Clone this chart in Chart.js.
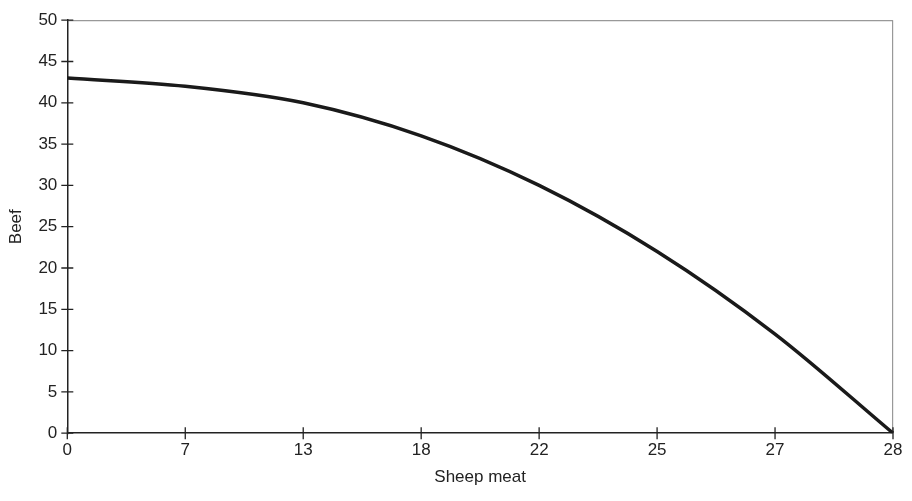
<!DOCTYPE html>
<html>
<head>
<meta charset="utf-8">
<script src="https://cdn.jsdelivr.net/npm/chart.js@4/dist/chart.umd.min.js"></script>
<style>
  html, body { margin: 0; padding: 0; background: #fff; }
  #wrap { width: 912px; height: 501px; }
</style>
</head>
<body>
<div id="wrap"><canvas id="chart"></canvas></div>
<script>
const sheepMeat = ["0", "7", "13", "18", "22", "25", "27", "28"];
const beef = [43, 42, 40, 36, 30, 22, 12, 0];
const beefTicks = [0, 5, 10, 15, 20, 25, 30, 35, 40, 45, 50];

// little ticks that cross the axis lines, both sides
const crossTicks = {
  id: "crossTicks",
  afterDraw(chart) {
    const { ctx, chartArea, scales } = chart;
    ctx.save();
    ctx.strokeStyle = "#222";
    ctx.lineWidth = 1.3;
    ctx.beginPath();
    beefTicks.forEach(v => {
      const y = scales.y.getPixelForValue(v);
      ctx.moveTo(chartArea.left - 6, y);
      ctx.lineTo(chartArea.left + 6, y);
    });
    sheepMeat.forEach((_, i) => {
      const x = scales.x.getPixelForValue(i);
      ctx.moveTo(x, chartArea.bottom - 6);
      ctx.lineTo(x, chartArea.bottom + 6);
    });
    ctx.stroke();
    ctx.restore();
  }
};

const font = { family: "Liberation Sans, Arial", size: 17 };

new Chart(document.getElementById("chart"), {
  type: "line",
  data: {
    labels: sheepMeat,
    datasets: [{
      data: beef,
      borderColor: "#1a1a1a",
      borderWidth: 3.5,
      pointRadius: 0,
      cubicInterpolationMode: "monotone",
      fill: false
    }]
  },
  options: {
    responsive: true,
    maintainAspectRatio: false,
    animation: false,
    layout: { padding: { top: 2, right: 19, left: 2, bottom: 9 } },
    plugins: { legend: { display: false }, tooltip: { enabled: false } },
    scales: {
      x: {
        offset: false,
        grid: {
          drawTicks: false,
          color: ctx => ctx.index === sheepMeat.length - 1 ? "#999" : "transparent",
          lineWidth: 1.2
        },
        border: { color: "#222", width: 1.5 },
        ticks: { color: "#222", padding: 7, maxRotation: 0, font },
        title: {
          display: true,
          text: "Sheep meat",
          color: "#222",
          padding: { top: 0 },
          font
        }
      },
      y: {
        min: 0,
        max: 50,
        afterBuildTicks: scale => { scale.ticks = beefTicks.map(v => ({ value: v })); },
        grid: {
          drawTicks: false,
          color: ctx => ctx.tick && ctx.tick.value === 50 ? "#999" : "transparent",
          lineWidth: 1.2
        },
        border: { color: "#222", width: 1.5 },
        ticks: { color: "#222", padding: 10, font },
        title: {
          display: true,
          text: "Beef",
          color: "#222",
          padding: { bottom: 2 },
          font
        }
      }
    }
  },
  plugins: [crossTicks]
});
</script>
</body>
</html>
